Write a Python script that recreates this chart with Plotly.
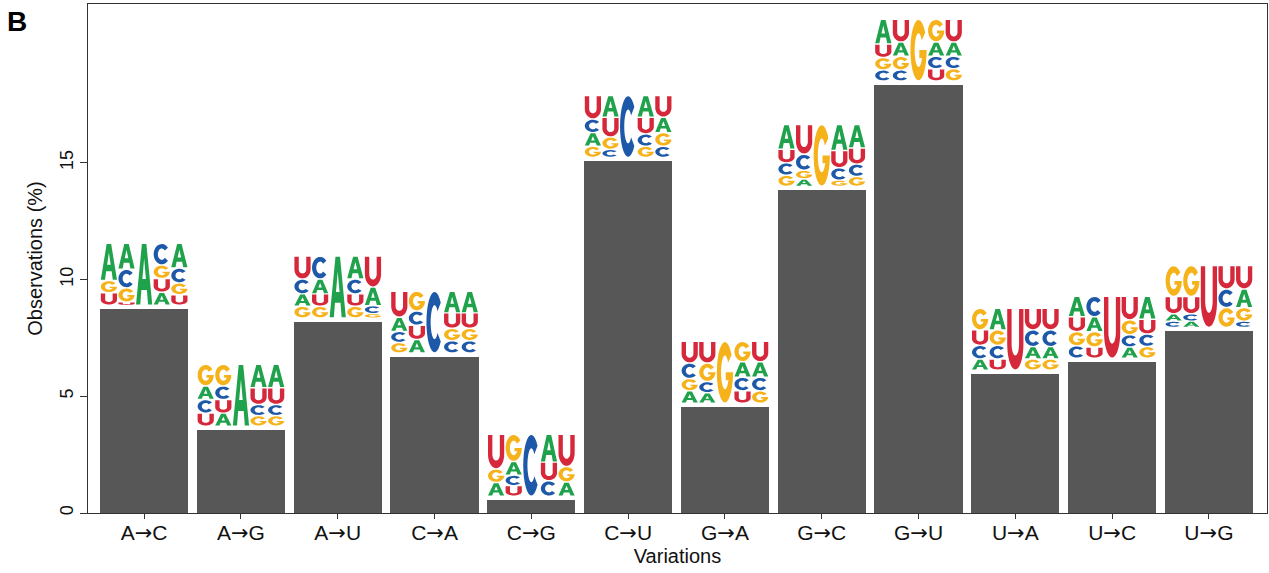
import math
import plotly.graph_objects as go

# ---------------- data ----------------
variations = ["A→C", "A→G", "A→U", "C→A", "C→G", "C→U",
              "G→A", "G→C", "G→U", "U→A", "U→C", "U→G"]
observations = [8.75, 3.57, 8.2, 6.7, 0.57, 15.08, 4.55, 13.84, 18.35, 5.97, 6.48, 7.8]
y_ticks = [0, 5, 10, 15]

# sequence logos: per variation, 5 columns, letters listed top -> bottom with relative heights
logo_A_C = [[("A", .60), ("G", .20), ("U", .20)],
            [("A", .42), ("C", .30), ("G", .23), ("U", .05)],
            [("A", 1.0)],
            [("C", .35), ("G", .22), ("U", .22), ("A", .21)],
            [("A", .40), ("C", .24), ("G", .19), ("U", .17)]]
logo_A_G = [[("G", .35), ("A", .22), ("C", .22), ("U", .21)],
            [("G", .35), ("C", .22), ("U", .22), ("A", .21)],
            [("A", 1.0)],
            [("A", .38), ("U", .27), ("C", .18), ("G", .17)],
            [("A", .38), ("U", .27), ("C", .18), ("G", .17)]]
logo_A_U = [[("U", .37), ("C", .24), ("A", .20), ("G", .19)],
            [("C", .37), ("A", .24), ("U", .20), ("G", .19)],
            [("A", 1.0)],
            [("A", .37), ("C", .24), ("U", .20), ("G", .19)],
            [("U", .50), ("A", .30), ("C", .13), ("G", .07)]]
logo_C_A = [[("U", .42), ("A", .23), ("C", .18), ("G", .17)],
            [("G", .32), ("C", .23), ("U", .23), ("A", .22)],
            [("C", 1.0)],
            [("A", .35), ("U", .25), ("G", .20), ("C", .20)],
            [("A", .35), ("U", .25), ("G", .20), ("C", .20)]]
logo_C_G = [[("U", .56), ("G", .22), ("A", .22)],
            [("G", .44), ("A", .22), ("C", .17), ("U", .17)],
            [("C", 1.0)],
            [("A", .45), ("U", .30), ("C", .25)],
            [("U", .52), ("G", .25), ("A", .23)]]
logo_C_U = [[("U", .38), ("C", .22), ("A", .22), ("G", .18)],
            [("A", .35), ("U", .32), ("G", .20), ("C", .13)],
            [("C", 1.0)],
            [("A", .35), ("U", .27), ("C", .20), ("G", .18)],
            [("U", .35), ("A", .25), ("G", .22), ("C", .18)]]
logo_G_A = [[("U", .35), ("C", .25), ("G", .20), ("A", .20)],
            [("U", .35), ("G", .30), ("C", .18), ("A", .17)],
            [("G", 1.0)],
            [("G", .33), ("A", .25), ("C", .22), ("U", .20)],
            [("U", .33), ("A", .25), ("C", .22), ("G", .20)]]
logo_G_C = [[("A", .40), ("U", .22), ("C", .20), ("G", .18)],
            [("U", .48), ("C", .26), ("G", .14), ("A", .12)],
            [("G", 1.0)],
            [("A", .42), ("U", .28), ("C", .20), ("G", .10)],
            [("A", .38), ("U", .26), ("C", .20), ("G", .16)]]
logo_G_U = [[("A", .40), ("U", .22), ("G", .20), ("C", .18)],
            [("U", .37), ("A", .23), ("G", .22), ("C", .18)],
            [("G", 1.0)],
            [("G", .37), ("A", .23), ("C", .20), ("U", .20)],
            [("U", .37), ("A", .23), ("C", .20), ("G", .20)]]
logo_U_A = [[("G", .35), ("U", .25), ("C", .22), ("A", .18)],
            [("A", .35), ("G", .25), ("C", .22), ("U", .18)],
            [("U", 1.0)],
            [("U", .35), ("C", .27), ("A", .20), ("G", .18)],
            [("U", .35), ("C", .27), ("A", .20), ("G", .18)]]
logo_U_C = [[("A", .33), ("U", .24), ("G", .23), ("C", .20)],
            [("C", .33), ("A", .24), ("G", .25), ("U", .18)],
            [("U", 1.0)],
            [("U", .38), ("G", .24), ("C", .20), ("A", .18)],
            [("A", .37), ("U", .24), ("C", .20), ("G", .19)]]
logo_U_G = [[("G", .50), ("U", .28), ("A", .12), ("C", .10)],
            [("G", .50), ("U", .28), ("C", .12), ("A", .10)],
            [("U", 1.0)],
            [("U", .38), ("C", .30), ("G", .32)],
            [("U", .38), ("A", .30), ("G", .22), ("C", .10)]]
logos = [logo_A_C, logo_A_G, logo_A_U, logo_C_A, logo_C_G, logo_C_U,
         logo_G_A, logo_G_C, logo_G_U, logo_U_A, logo_U_C, logo_U_G]

# ---------------- styles ----------------
BAR_COLOR = "#575757"
LETTER_COLORS = {"A": "#1fa24b", "C": "#1d59a8", "G": "#f5b21a", "U": "#d6283b"}
BAR_WIDTH = 0.91
LOGO_GAP = 0.15      # data units between bar top and logo
LOGO_HEIGHT = 2.65   # data units


def arc(cx, cy, rx, ry, t0, t1, n=24):
    pts = []
    for i in range(n + 1):
        t = math.radians(t0 + (t1 - t0) * i / n)
        pts.append((cx + rx * math.cos(t), cy + ry * math.sin(t)))
    return pts


GLYPHS = {
    "A": [[(0, 0), (0.36, 1), (0.64, 1), (1, 0), (0.74, 0), (0.67, 0.24), (0.33, 0.24), (0.26, 0)],
          [(0.39, 0.42), (0.61, 0.42), (0.5, 0.76)]],
    "C": [arc(0.5, 0.5, 0.5, 0.5, 40, 320) + arc(0.5, 0.5, 0.24, 0.28, 320, 40)],
    "G": [arc(0.5, 0.5, 0.5, 0.5, 35, 360) + [(1, 0.5), (0.55, 0.5), (0.55, 0.37), (0.74, 0.37)]
          + arc(0.5, 0.5, 0.24, 0.28, 330, 35)],
    "U": [[(0, 1), (0, 0.42)] + arc(0.5, 0.42, 0.5, 0.42, 180, 360, 20) + [(1, 1), (0.73, 1)]
          + arc(0.5, 0.42, 0.23, 0.19, 360, 180, 20) + [(0.27, 1)]],
}


def glyph_path(letter, x0, w, y0, h):
    parts = []
    for sub in GLYPHS[letter]:
        pts = ["%.4f,%.4f" % (x0 + u * w, y0 + v * h) for u, v in sub]
        parts.append("M" + " L".join(pts) + " Z")
    return " ".join(parts)


def tick_label(s):
    a, b = s.split("→")
    return a + "<span style='font-family:DejaVu Sans'>→</span>" + b


fig = go.Figure()
xpos = list(range(len(variations)))
fig.add_trace(go.Bar(x=xpos, y=observations, width=BAR_WIDTH,
                     marker=dict(color=BAR_COLOR, line=dict(width=0)),
                     hoverinfo="skip"))

shapes = []
for i, (val, logo) in enumerate(zip(observations, logos)):
    ncol = len(logo)
    colw = BAR_WIDTH / ncol
    left = i - BAR_WIDTH / 2
    base = val + LOGO_GAP
    for c, col in enumerate(logo):
        total = sum(p for _, p in col)
        y = base
        for letter, p in reversed(col):  # bottom -> top
            h = LOGO_HEIGHT * p / total
            pad_y = min(0.03, h * 0.1)
            shapes.append(dict(type="path",
                               path=glyph_path(letter, left + c * colw + colw * 0.04, colw * 0.92,
                                               y + pad_y, h - 2 * pad_y),
                               xref="x", yref="y", fillcolor=LETTER_COLORS[letter],
                               line=dict(width=0), layer="above"))
            y += h

fig.update_layout(
    width=1269, height=573,
    margin=dict(l=88, r=2, t=4, b=60),
    paper_bgcolor="white", plot_bgcolor="white",
    showlegend=False,
    font=dict(family="Liberation Sans, Arial, sans-serif", color="#111111"),
    shapes=shapes,
    bargap=0,
    xaxis=dict(range=[-0.58, 11.6], tickmode="array", tickvals=xpos,
               ticktext=[tick_label(v) for v in variations],
               showline=True, linecolor="#333333", linewidth=1, mirror=True,
               ticks="outside", ticklen=5, tickcolor="#333333", ticklabelstandoff=-4,
               tickfont=dict(size=21, color="#111111"),
               title=dict(text="Variations", font=dict(size=20, color="#111111"), standoff=0),
               showgrid=False, zeroline=False, fixedrange=True),
    yaxis=dict(range=[0, 21.8], tickmode="array", tickvals=y_ticks,
               ticktext=[str(t) for t in y_ticks], tickangle=-90,
               showline=True, linecolor="#333333", linewidth=1, mirror=True,
               ticks="outside", ticklen=7, tickcolor="#333333",
               tickfont=dict(size=18, color="#111111"),
               title=dict(text="Observations (%)", font=dict(size=20, color="#111111"), standoff=8),
               showgrid=False, zeroline=False, fixedrange=True),
    annotations=[dict(text="<b>B</b>", xref="paper", yref="paper", x=-0.07, y=1.0,
                      xanchor="left", yanchor="top", showarrow=False,
                      font=dict(size=28, color="#000000"))],
)

fig.write_html("out.html")
